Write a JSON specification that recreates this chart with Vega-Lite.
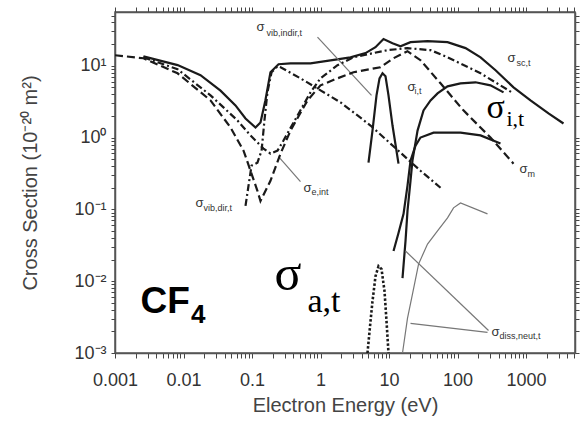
{
"$schema":"https://vega.github.io/schema/vega-lite/v6.json",
"width":460,"height":341,
"autosize":{"type":"none"},
"padding":{"left":115,"top":12,"right":6,"bottom":83},
"background":"white",
"config":{"view":{"stroke":"#555","strokeWidth":1.5},
 "axis":{"domainColor":"#555","domainWidth":1.5,"tickColor":"#444","tickWidth":1,"ticks":true,"labelOverlap":false,"labelFlush":false,"labelBound":false,"grid":false,"labelFont":"Liberation Sans","titleFont":"Liberation Sans","labelColor":"#333","titleColor":"#444","titleFontWeight":"normal"}},
"datasets":{
"curves":[
{"s":"sc","E":0.0026,"cs":13.5},{"s":"sc","E":0.0082,"cs":10.2},{"s":"sc","E":0.0177,"cs":7.4},{"s":"sc","E":0.0347,"cs":4.5},{"s":"sc","E":0.0574,"cs":2.8},{"s":"sc","E":0.0804,"cs":1.84},{"s":"sc","E":0.1125,"cs":1.38},{"s":"sc","E":0.133,"cs":1.62},{"s":"sc","E":0.157,"cs":3.3},{"s":"sc","E":0.186,"cs":8.1},{"s":"sc","E":0.244,"cs":10.5},{"s":"sc","E":0.365,"cs":10.8},{"s":"sc","E":0.714,"cs":10.8},{"s":"sc","E":1.4,"cs":11.9},{"s":"sc","E":2.74,"cs":13.1},{"s":"sc","E":4.54,"cs":15.0},{"s":"sc","E":6.35,"cs":18.1},{"s":"sc","E":8.31,"cs":23.5},{"s":"sc","E":11.25,"cs":20.6},{"s":"sc","E":14.7,"cs":18.7},{"s":"sc","E":20.6,"cs":21.3},{"s":"sc","E":36.5,"cs":22.0},{"s":"sc","E":71.5,"cs":21.3},{"s":"sc","E":131,"cs":17.6},{"s":"sc","E":217,"cs":13.1},{"s":"sc","E":359,"cs":8.65},{"s":"sc","E":657,"cs":5.0},{"s":"sc","E":1163,"cs":3.3},{"s":"sc","E":2130,"cs":2.17},{"s":"sc","E":3526,"cs":1.57},
{"s":"m","E":0.001,"cs":14.0},{"s":"m","E":0.0026,"cs":12.7},{"s":"m","E":0.0082,"cs":7.85},{"s":"m","E":0.0248,"cs":3.29},{"s":"m","E":0.0485,"cs":1.38},{"s":"m","E":0.0752,"cs":0.658},{"s":"m","E":0.0951,"cs":0.345},{"s":"m","E":0.12,"cs":0.181},{"s":"m","E":0.133,"cs":0.131},{"s":"m","E":0.186,"cs":0.25},{"s":"m","E":0.261,"cs":0.597},{"s":"m","E":0.365,"cs":1.25},{"s":"m","E":0.646,"cs":3.29},{"s":"m","E":1.0,"cs":5.34},{"s":"m","E":1.771,"cs":6.68},{"s":"m","E":3.03,"cs":8.11},{"s":"m","E":7.5,"cs":9.53},{"s":"m","E":11.64,"cs":12.73},{"s":"m","E":18.6,"cs":15.95},{"s":"m","E":28.8,"cs":11.94},{"s":"m","E":56.5,"cs":5.69},{"s":"m","E":122,"cs":2.39},{"s":"m","E":303,"cs":1.0},{"s":"m","E":657,"cs":0.433},
{"s":"eint","E":0.0026,"cs":13.1},{"s":"eint","E":0.0082,"cs":8.93},{"s":"eint","E":0.0248,"cs":3.87},{"s":"eint","E":0.0614,"cs":1.73},{"s":"eint","E":0.0951,"cs":1.07},{"s":"eint","E":0.147,"cs":0.702},{"s":"eint","E":0.186,"cs":0.597},{"s":"eint","E":0.236,"cs":0.658},{"s":"eint","E":0.288,"cs":0.908},{"s":"eint","E":0.462,"cs":2.03},{"s":"eint","E":0.714,"cs":4.26},{"s":"eint","E":1.0,"cs":6.68},{"s":"eint","E":1.771,"cs":10.16},{"s":"eint","E":3.03,"cs":13.14},{"s":"eint","E":9.5,"cs":16.47},{"s":"eint","E":18.6,"cs":17.57},{"s":"eint","E":40.4,"cs":16.47},{"s":"eint","E":71.5,"cs":13.14},{"s":"eint","E":217,"cs":7.85},{"s":"eint","E":657,"cs":4.12},
{"s":"vibdir","E":0.0804,"cs":0.112},{"s":"vibdir","E":0.0889,"cs":0.213},{"s":"vibdir","E":0.0984,"cs":0.406},{"s":"vibdir","E":0.12,"cs":0.447},{"s":"vibdir","E":0.138,"cs":0.658},{"s":"vibdir","E":0.152,"cs":1.73},{"s":"vibdir","E":0.168,"cs":4.26},{"s":"vibdir","E":0.193,"cs":8.11},{"s":"vibdir","E":0.236,"cs":9.84},{"s":"vibdir","E":0.261,"cs":9.53},{"s":"vibdir","E":0.51,"cs":6.68},{"s":"vibdir","E":1.0,"cs":4.54},{"s":"vibdir","E":1.96,"cs":3.09},{"s":"vibdir","E":3.47,"cs":2.03},{"s":"vibdir","E":5.37,"cs":1.47},{"s":"vibdir","E":14.7,"cs":0.617},{"s":"vibdir","E":28.8,"cs":0.345},{"s":"vibdir","E":56.5,"cs":0.2},
{"s":"vibindir","E":5.02,"cs":0.447},{"s":"vibindir","E":5.74,"cs":1.25},{"s":"vibindir","E":6.57,"cs":3.87},{"s":"vibindir","E":7.27,"cs":6.68},{"s":"vibindir","E":8.04,"cs":7.85},{"s":"vibindir","E":8.89,"cs":7.13},{"s":"vibindir","E":9.83,"cs":3.87},{"s":"vibindir","E":11.25,"cs":1.47},{"s":"vibindir","E":13.76,"cs":0.433},
{"s":"i","E":15.74,"cs":0.011},{"s":"i","E":17.41,"cs":0.0362},{"s":"i","E":18.62,"cs":0.0953},{"s":"i","E":20.6,"cs":0.25},{"s":"i","E":22.0,"cs":0.477},{"s":"i","E":26.1,"cs":1.25},{"s":"i","E":31.9,"cs":2.39},{"s":"i","E":40.4,"cs":3.29},{"s":"i","E":51.1,"cs":4.12},{"s":"i","E":71.5,"cs":5.17},{"s":"i","E":110.6,"cs":5.69},{"s":"i","E":183,"cs":5.88},{"s":"i","E":303,"cs":5.34},{"s":"i","E":470,"cs":4.26},
{"s":"diss","E":11.64,"cs":0.0263},{"s":"diss","E":13.76,"cs":0.0469},{"s":"diss","E":16.3,"cs":0.0865},{"s":"diss","E":18.6,"cs":0.213},{"s":"diss","E":20.6,"cs":0.477},{"s":"diss","E":24.4,"cs":0.773},{"s":"diss","E":28.8,"cs":1.0},{"s":"diss","E":44.7,"cs":1.17},{"s":"diss","E":110.6,"cs":1.17},{"s":"diss","E":217,"cs":1.07},{"s":"diss","E":424,"cs":0.824},
{"s":"dissthin","E":15.74,"cs":0.001},{"s":"dissthin","E":18.6,"cs":0.00304},{"s":"dissthin","E":22.0,"cs":0.00658},{"s":"dissthin","E":27.0,"cs":0.0173},{"s":"dissthin","E":36.5,"cs":0.0329},{"s":"dissthin","E":51.1,"cs":0.05},{"s":"dissthin","E":71.5,"cs":0.0761},{"s":"dissthin","E":87.5,"cs":0.105},{"s":"dissthin","E":110.6,"cs":0.123},{"s":"dissthin","E":274,"cs":0.0865},
{"s":"a","E":4.85,"cs":0.001},{"s":"a","E":5.37,"cs":0.00276},{"s":"a","E":5.74,"cs":0.00525},{"s":"a","E":6.35,"cs":0.0117},{"s":"a","E":7.03,"cs":0.0162},{"s":"a","E":7.78,"cs":0.0147},{"s":"a","E":8.6,"cs":0.00725},{"s":"a","E":9.2,"cs":0.00276},{"s":"a","E":9.83,"cs":0.001},
{"s":"p1","E":0.904,"cs":25.0},{"s":"p1","E":5.55,"cs":3.87},
{"s":"p2","E":0.244,"cs":0.542},{"s":"p2","E":0.51,"cs":0.243},
{"s":"p3","E":17.41,"cs":0.0263},{"s":"p3","E":283.6,"cs":0.00206},
{"s":"p4","E":20.6,"cs":0.00259},{"s":"p4","E":274,"cs":0.00194}
],
"sig":[
{"t":"σ","E":0.1163,"cs":34.5},{"t":"σ","E":537,"cs":12.73},{"t":"σ","E":18.6,"cs":5.0},{"t":"σ","E":804,"cs":0.368},{"t":"σ","E":0.565,"cs":0.2},{"t":"σ","E":0.01497,"cs":0.123},{"t":"σ","E":313.6,"cs":0.00194}
],
"sub":[
{"t":"vib,indir,t","E":0.1628,"cs":28.5},{"t":"sc,t","E":727,"cs":10.84},{"t":"i,t","E":23.6,"cs":4.4},{"t":"m","E":1052,"cs":0.314},{"t":"e,int","E":0.739,"cs":0.176},{"t":"vib,dir,t","E":0.0196,"cs":0.105},{"t":"diss,neut,t","E":410,"cs":0.0017}
],
"bigI":[{"t":"σ","E":265,"cs":1.9}],
"bigIsub":[{"t":"i,t","E":519,"cs":1.47}],
"bigA":[{"t":"σ","E":0.213,"cs":0.00748}],
"bigAsub":[{"t":"a,t","E":0.646,"cs":0.00368}],
"cf":[{"t":"CF","E":0.002355,"cs":0.00357}],
"cfsub":[{"t":"4","E":0.0129,"cs":0.00259}]
},
"layer":[
{"data":{"name":"curves"},"transform":[{"filter":{"field":"s","oneOf":["sc","vibindir","i","diss"]}}],
 "mark":{"type":"line","color":"#1a1a1a","strokeWidth":2.2,"clip":true},
 "encoding":{
  "x":{"field":"E","type":"quantitative","scale":{"type":"log","domain":[0.001,5190]},
   "axis":{"orient":"bottom","values":[0.001,0.002,0.003,0.004,0.005,0.006,0.007,0.008,0.009,0.01,0.02,0.03,0.04,0.05,0.06,0.07,0.08,0.09,0.1,0.2,0.3,0.4,0.5,0.6,0.7,0.8,0.9,1,2,3,4,5,6,7,8,9,10,20,30,40,50,60,70,80,90,100,200,300,400,500,600,700,800,900,1000,2000,3000,4000,5000],
    "labelExpr":"datum.value==0.001?'0.001':datum.value==0.01?'0.01':datum.value==0.1?'0.1':datum.value==1?'1':datum.value==10?'10':datum.value==100?'100':datum.value==1000?'1000':''",
    "ticks":true,"tickSize":5,
    "labelPadding":13,"labelFontSize":18,"title":"Electron Energy (eV)","titleFontSize":20,"titlePadding":6}},
  "y":{"field":"cs","type":"quantitative","scale":{"type":"log","domain":[0.001,56]},
   "axis":{"orient":"left","values":[0.001,0.002,0.003,0.004,0.005,0.006,0.007,0.008,0.009,0.01,0.02,0.03,0.04,0.05,0.06,0.07,0.08,0.09,0.1,0.2,0.3,0.4,0.5,0.6,0.7,0.8,0.9,1,2,3,4,5,6,7,8,9,10,20,30,40,50],
    "labelExpr":"datum.value==0.001?'10⁻³':datum.value==0.01?'10⁻²':datum.value==0.1?'10⁻¹':datum.value==1?'10⁰':datum.value==10?'10¹':''",
    "ticks":true,"tickSize":4,
    "labelPadding":5,"labelFontSize":18,"title":"Cross Section (10⁻²⁰ m²)","titleFontSize":20,"titlePadding":33}},
  "detail":{"field":"s"}}},
{"data":{"name":"curves"},"transform":[{"filter":{"field":"s","oneOf":["dissthin","p1","p2","p3","p4"]}}],
 "mark":{"type":"line","color":"#777","strokeWidth":1.2,"clip":true},
 "encoding":{
  "x":{"field":"E","type":"quantitative","scale":{"type":"log","domain":[0.001,5190]},
   "axis":{"orient":"top","values":[0.001,0.002,0.003,0.004,0.005,0.006,0.007,0.008,0.009,0.01,0.02,0.03,0.04,0.05,0.06,0.07,0.08,0.09,0.1,0.2,0.3,0.4,0.5,0.6,0.7,0.8,0.9,1,2,3,4,5,6,7,8,9,10,20,30,40,50,60,70,80,90,100,200,300,400,500,600,700,800,900,1000,2000,3000,4000,5000],
    "labels":false,"title":null,"ticks":true,"tickSize":5}},
  "y":{"field":"cs","type":"quantitative","scale":{"type":"log","domain":[0.001,56]},
   "axis":{"orient":"right","values":[0.001,0.002,0.003,0.004,0.005,0.006,0.007,0.008,0.009,0.01,0.02,0.03,0.04,0.05,0.06,0.07,0.08,0.09,0.1,0.2,0.3,0.4,0.5,0.6,0.7,0.8,0.9,1,2,3,4,5,6,7,8,9,10,20,30,40,50],
    "labels":false,"title":null,"ticks":true,"tickSize":4}},
  "detail":{"field":"s"}}},
{"data":{"name":"curves"},"transform":[{"filter":{"field":"s","equal":"m"}}],
 "mark":{"type":"line","color":"#1a1a1a","strokeWidth":2.2,"strokeDash":[8,4],"clip":true},
 "encoding":{"x":{"field":"E","type":"quantitative","scale":{"type":"log","domain":[0.001,5190]},"axis":null},"y":{"field":"cs","type":"quantitative","scale":{"type":"log","domain":[0.001,56]},"axis":null}}},
{"data":{"name":"curves"},"transform":[{"filter":{"field":"s","oneOf":["eint","vibdir"]}}],
 "mark":{"type":"line","color":"#1a1a1a","strokeWidth":2.2,"strokeDash":[7,3,2,3],"clip":true},
 "encoding":{"x":{"field":"E","type":"quantitative","scale":{"type":"log","domain":[0.001,5190]},"axis":null},"y":{"field":"cs","type":"quantitative","scale":{"type":"log","domain":[0.001,56]},"axis":null},"detail":{"field":"s"}}},
{"data":{"name":"curves"},"transform":[{"filter":{"field":"s","equal":"a"}}],
 "mark":{"type":"line","color":"#1a1a1a","strokeWidth":2.6,"strokeDash":[2.5,2],"clip":true},
 "encoding":{"x":{"field":"E","type":"quantitative","scale":{"type":"log","domain":[0.001,5190]},"axis":null},"y":{"field":"cs","type":"quantitative","scale":{"type":"log","domain":[0.001,56]},"axis":null}}},
{"data":{"name":"sig"},
 "mark":{"type":"text","align":"left","baseline":"middle","font":"Liberation Sans","fontSize":13,"color":"#333"},
 "encoding":{"x":{"field":"E","type":"quantitative","scale":{"type":"log","domain":[0.001,5190]},"axis":null},"y":{"field":"cs","type":"quantitative","scale":{"type":"log","domain":[0.001,56]},"axis":null},"text":{"field":"t"}}},
{"data":{"name":"sub"},
 "mark":{"type":"text","align":"left","baseline":"middle","font":"Liberation Sans","fontSize":9,"color":"#333"},
 "encoding":{"x":{"field":"E","type":"quantitative","scale":{"type":"log","domain":[0.001,5190]},"axis":null},"y":{"field":"cs","type":"quantitative","scale":{"type":"log","domain":[0.001,56]},"axis":null},"text":{"field":"t"}}},
{"data":{"name":"bigI"},
 "mark":{"type":"text","align":"left","baseline":"alphabetic","font":"Liberation Serif","fontSize":34,"color":"#000"},
 "encoding":{"x":{"field":"E","type":"quantitative","scale":{"type":"log","domain":[0.001,5190]},"axis":null},"y":{"field":"cs","type":"quantitative","scale":{"type":"log","domain":[0.001,56]},"axis":null},"text":{"field":"t"}}},
{"data":{"name":"bigIsub"},
 "mark":{"type":"text","align":"left","baseline":"alphabetic","font":"Liberation Serif","fontSize":22,"color":"#000"},
 "encoding":{"x":{"field":"E","type":"quantitative","scale":{"type":"log","domain":[0.001,5190]},"axis":null},"y":{"field":"cs","type":"quantitative","scale":{"type":"log","domain":[0.001,56]},"axis":null},"text":{"field":"t"}}},
{"data":{"name":"bigA"},
 "mark":{"type":"text","align":"left","baseline":"alphabetic","font":"Liberation Serif","fontSize":50,"color":"#000"},
 "encoding":{"x":{"field":"E","type":"quantitative","scale":{"type":"log","domain":[0.001,5190]},"axis":null},"y":{"field":"cs","type":"quantitative","scale":{"type":"log","domain":[0.001,56]},"axis":null},"text":{"field":"t"}}},
{"data":{"name":"bigAsub"},
 "mark":{"type":"text","align":"left","baseline":"alphabetic","font":"Liberation Serif","fontSize":34,"color":"#000"},
 "encoding":{"x":{"field":"E","type":"quantitative","scale":{"type":"log","domain":[0.001,5190]},"axis":null},"y":{"field":"cs","type":"quantitative","scale":{"type":"log","domain":[0.001,56]},"axis":null},"text":{"field":"t"}}},
{"data":{"name":"cf"},
 "mark":{"type":"text","align":"left","baseline":"alphabetic","font":"Liberation Sans","fontWeight":"bold","fontSize":37,"color":"#000"},
 "encoding":{"x":{"field":"E","type":"quantitative","scale":{"type":"log","domain":[0.001,5190]},"axis":null},"y":{"field":"cs","type":"quantitative","scale":{"type":"log","domain":[0.001,56]},"axis":null},"text":{"field":"t"}}},
{"data":{"name":"cfsub"},
 "mark":{"type":"text","align":"left","baseline":"alphabetic","font":"Liberation Sans","fontWeight":"bold","fontSize":26,"color":"#000"},
 "encoding":{"x":{"field":"E","type":"quantitative","scale":{"type":"log","domain":[0.001,5190]},"axis":null},"y":{"field":"cs","type":"quantitative","scale":{"type":"log","domain":[0.001,56]},"axis":null},"text":{"field":"t"}}}
],
"resolve":{"axis":{"x":"independent","y":"independent"}}
}
